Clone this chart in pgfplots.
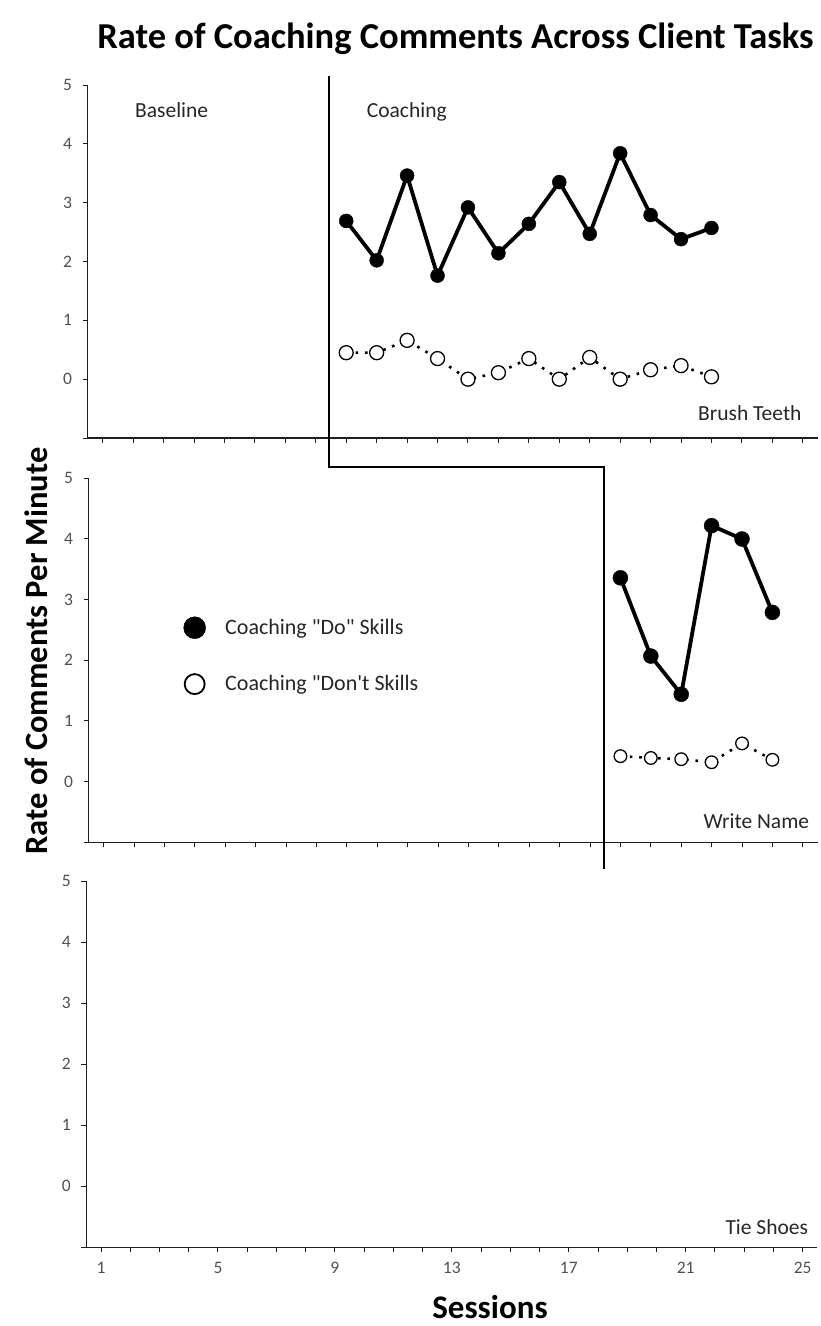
\documentclass[border=0pt]{standalone}
\usepackage{fontspec}
\setmainfont{Carlito}[Ligatures=TeXOff]
\usepackage{pgfplots}
\usepackage{pgfplotstable}
\pgfplotsset{compat=1.18}

% Brush Teeth panel (sessions 9-21)
\pgfplotstableread{
x do dont
9  2.69 0.45
10 2.02 0.45
11 3.46 0.66
12 1.76 0.35
13 2.92 0.00
14 2.14 0.11
15 2.64 0.35
16 3.35 0.00
17 2.47 0.37
18 3.84 0.00
19 2.79 0.16
20 2.38 0.23
21 2.57 0.04
}\toptable

% Write Name panel (sessions 18-23)
\pgfplotstableread{
x do dont
18 3.36 0.42
19 2.07 0.39
20 1.44 0.37
21 4.22 0.32
22 4.00 0.63
23 2.79 0.36
}\midtable

\definecolor{axc}{RGB}{30,30,30}
\definecolor{tlc}{RGB}{80,80,80}
\definecolor{txc}{RGB}{38,38,38}

\pgfplotsset{
  panel/.style={
    scale only axis,
    anchor=south west,
    axis lines=left,
    axis line style={-, axc, line width=1.3pt},
    ymin=-1, ymax=5,
    ytick={-1,0,1,2,3,4,5},
    yticklabels={,0,1,2,3,4,5},
    tick align=outside,
    major tick length=5pt,
    tick style={axc, line width=1pt},
    tick label style={font=\fontsize{17.5}{20}\selectfont, text=tlc},
    yticklabel style={xshift=-7pt},
    /pgf/number format/assume math mode=true,
    clip=false,
  },
  dostyle/.style={black, line width=3.8pt, mark=*, mark size=7pt,
    mark options={solid, fill=black, line width=0.4pt}},
  dontstyle/.style={black, line width=2.6pt, dash pattern=on 2.6pt off 6.8pt,
    mark=*, mark size=7pt, mark options={solid, fill=white, draw=black, line width=1.3pt}},
}

\begin{document}
\begin{tikzpicture}
\path[use as bounding box] (0pt,0pt) rectangle (820pt,-1326pt);

% ---- top panel: Brush Teeth
\begin{axis}[panel,
  at={(87.5pt,-438pt)}, width=730.5pt, height=353pt,
  xmin=0.5, xmax=24.5, xtick={1,...,24}, xticklabels={},
]
\addplot[dontstyle] table[x=x, y=dont] {\toptable};
\addplot[dostyle] table[x=x, y=do] {\toptable};
\end{axis}

% ---- middle panel: Write Name
\begin{axis}[panel,
  at={(88.5pt,-842.3pt)}, width=729.5pt, height=364pt,
  xmin=0.5, xmax=24.5, xtick={1,...,24}, xticklabels={},
  legend style={at={(0.1302,0.6203)}, anchor=north west, draw=none, fill=none,
    inner sep=0pt, row sep=35pt, font=\fontsize{22}{26}\selectfont, text=txc},
  legend cell align=left,
  legend image code/.code={\draw[#1] plot coordinates {(0pt,0pt)}; \path[draw=none] (0pt,0pt) -- (28.5pt,0pt);},
]
\addlegendimage{black, mark=*, mark size=11pt, mark options={fill=black, line width=0.4pt}}
\addlegendentry{Coaching "Do" Skills}
\addlegendimage{black, mark=*, mark size=10pt, mark options={fill=white, line width=1.8pt}}
\addlegendentry{Coaching "Don't Skills}
\addplot[dontstyle, mark size=6.3pt, forget plot] table[x=x, y=dont] {\midtable};
\addplot[dostyle, mark size=7.5pt, forget plot] table[x=x, y=do] {\midtable};
\end{axis}

% ---- bottom panel: Tie Shoes
\begin{axis}[panel,
  at={(86.4pt,-1247.3pt)}, width=730.9pt, height=366pt,
  xmin=0.5, xmax=25.5, xtick={1,...,25},
  xticklabels={1,,,,5,,,,9,,,,13,,,,17,,,,21,,,,25},
  xticklabel style={yshift=-6pt},
]
\end{axis}

% phase change line
\draw[line width=2.2pt, black] (329pt,-76pt) -- (329pt,-467pt) -- (604pt,-467pt) -- (604pt,-869pt);

% texts
\node[font=\bfseries\fontsize{36.5}{42}\selectfont, anchor=base, inner sep=0pt] at (455.5pt,-48pt)
  {Rate of Coaching Comments Across Client Tasks};
\node[font=\bfseries\fontsize{32.5}{38}\selectfont, rotate=90, inner sep=0pt] at (36pt,-651pt)
  {Rate of Comments Per Minute};
\node[font=\bfseries\fontsize{33}{38}\selectfont, inner sep=0pt] at (490pt,-1307pt) {Sessions};

\begin{scope}[every node/.style={font=\fontsize{21.5}{25}\selectfont, text=txc, inner sep=0pt}]
\node[anchor=base west] at (135pt,-117.3pt) {Baseline};
\node[anchor=base west] at (366.7pt,-117.3pt) {Coaching};
\node[anchor=base east] at (801.7pt,-420pt) {Brush Teeth};
\node[anchor=base east] at (809.3pt,-828.3pt) {Write Name};
\node[anchor=base east] at (808.3pt,-1234pt) {Tie Shoes};
\end{scope}
\end{tikzpicture}
\end{document}
